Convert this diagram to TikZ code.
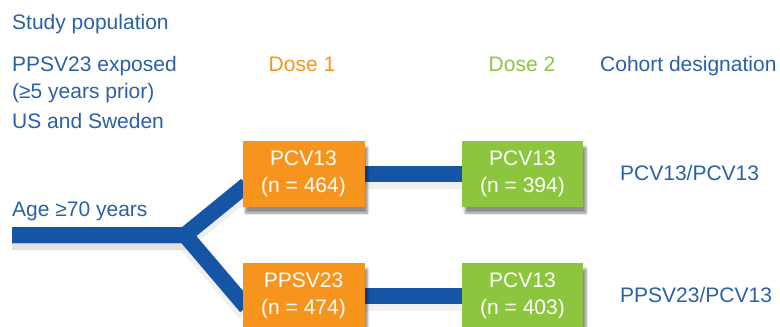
\documentclass[tikz,border=0pt]{standalone}
\usepackage{fontspec}
\setmainfont{Liberation Sans}
\usetikzlibrary{backgrounds,shadows.blur}
\definecolor{tblue}{HTML}{2A60A8}
\definecolor{bblue}{HTML}{1655A6}
\definecolor{dorange}{HTML}{F7941D}
\definecolor{dgreen}{HTML}{8CC63F}
\tikzset{
  lbl/.style={inner sep=0pt, text=tblue, font=\fontsize{21}{24}\selectfont},
  box/.style={minimum width=122pt, minimum height=66pt, inner sep=0pt, align=center,
    text=white, font=\fontsize{21}{27}\selectfont,
    blur shadow={shadow xshift=3pt, shadow yshift=-6pt, shadow blur steps=8, shadow opacity=45}},
  bar/.style={line width=16pt, draw=bblue, line join=miter},
  barshadow/.style={line width=18pt, draw=black, opacity=0.06, line join=miter, transform canvas={yshift=-6pt}},
}
\begin{document}
\begin{tikzpicture}[x=1pt,y=-1pt]
\useasboundingbox (0,0) rectangle (780,327);
% labels
\node[lbl, anchor=base west] (sp) at (12,29) {Study population};
\node[lbl, anchor=base west] (pe) at (12,71) {PPSV23 exposed};
\node[lbl, anchor=base west] (yp) at (12,98) {(≥5 years prior)};
\node[lbl, anchor=base west] (us) at (12,128) {US and Sweden};
\node[lbl, anchor=base, text=dorange] (d1) at (302,71) {Dose 1};
\node[lbl, anchor=base, text=dgreen] (d2) at (522,71) {Dose 2};
\node[lbl, anchor=base west] (cd) at (600,71) {Cohort designation};
\node[lbl, anchor=base west] (age) at (12,216) {Age ≥70 years};
\node[lbl, anchor=base west] (c1) at (620,180) {PCV13/PCV13};
\node[lbl, anchor=base west] (c2) at (620,302) {PPSV23/PCV13};
% boxes
\node[box, fill=dorange] (o1) at (303.5,174) {PCV13\\(n = 464)};
\node[box, fill=dorange] (o2) at (303.5,296) {PPSV23\\(n = 474)};
\node[box, fill=dgreen, minimum width=121pt] (g1) at (522.5,174) {PCV13\\(n = 394)};
\node[box, fill=dgreen, minimum width=121pt] (g2) at (522.5,296) {PCV13\\(n = 403)};
% bars
\coordinate (start) at (12,235);
\coordinate (fork) at (185,235);
\begin{pgfonlayer}{background}
\draw[barshadow] (start) -- (fork) -- ([yshift=-11pt,xshift=4pt]o1.west);
\draw[barshadow] (start) -- (fork) -- ([yshift=-11pt,xshift=4pt]o2.west);
\draw[barshadow] (o1.center) -- (g1.center);
\draw[barshadow] (o2.center) -- (g2.center);
\draw[bar] (start) -- (fork) -- ([yshift=-11pt,xshift=4pt]o1.west);
\draw[bar] (start) -- (fork) -- ([yshift=-11pt,xshift=4pt]o2.west);
\draw[bar] (o1.center) -- (g1.center);
\draw[bar] (o2.center) -- (g2.center);
\end{pgfonlayer}
\end{tikzpicture}
\end{document}
